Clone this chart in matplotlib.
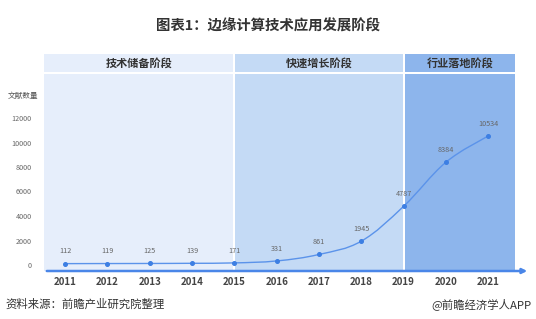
import matplotlib
matplotlib.use("Agg")
import matplotlib.pyplot as plt
from matplotlib.path import Path
from matplotlib.patches import PathPatch, FancyArrowPatch
import matplotlib.transforms as mtransforms

plt.rcParams['font.family'] = ['Noto Sans CJK SC', 'DejaVu Sans']

years = [2011, 2012, 2013, 2014, 2015, 2016, 2017, 2018, 2019, 2020, 2021]
values = [112, 119, 125, 139, 171, 331, 861, 1945, 4787, 8384, 10534]
yticks = [0, 2000, 4000, 6000, 8000, 10000, 12000]
stages = ["技术储备阶段", "快速增长阶段", "行业落地阶段"]
stage_bounds = [(2010.5, 2015.0), (2015.0, 2019.0), (2019.0, 2021.64)]
stage_colors = ["#E6EEFB", "#C4DAF5", "#8DB5EC"]

W, H = 536, 319
fig = plt.figure(figsize=(W / 100, H / 100), dpi=100)

# axes in pixel geometry
left_px, right_px, top_px, bot_px = 44, 530, 54, 271
ax = fig.add_axes([left_px / W, 1 - bot_px / H, (right_px - left_px) / W, (bot_px - top_px) / H])
px_per_unit = 147 / 12000.0
y0_px = 265
ax.set_xlim(2010.5, 2010.5 + (right_px - left_px) / 42.3)
ax.set_ylim(-(bot_px - y0_px) / px_per_unit, (y0_px - top_px) / px_per_unit)
for s in ax.spines.values():
    s.set_visible(False)
ax.patch.set_alpha(0)

trans = mtransforms.blended_transform_factory(ax.transData, ax.transAxes)
hdr_frac = (bot_px - 73) / (bot_px - top_px)
gap = 0.045
for i, ((x0, x1), c, name) in enumerate(zip(stage_bounds, stage_colors, stages)):
    a = x0 + (gap / 2 if i > 0 else 0)
    b = x1 - (gap / 2 if i < len(stages) - 1 else 0)
    ax.add_patch(plt.Rectangle((a, 0), b - a, hdr_frac - 0.005, transform=trans,
                               facecolor=c, edgecolor='none', zorder=0))
    ax.add_patch(plt.Rectangle((a, hdr_frac + 0.005), b - a, 1 - hdr_frac - 0.005, transform=trans,
                               facecolor=c, edgecolor='none', zorder=0))
    ax.text((a + b) / 2, (hdr_frac + 1) / 2, name, transform=trans, ha='center', va='center',
            fontsize=8, fontweight='bold', color='#333333', zorder=3)

# smooth line via Catmull-Rom bezier
pts = list(zip(years, values))
verts = [pts[0]]
codes = [Path.MOVETO]
t = 0.18
for i in range(len(pts) - 1):
    p0 = pts[i - 1] if i > 0 else pts[i]
    p1 = pts[i]
    p2 = pts[i + 1]
    p3 = pts[i + 2] if i + 2 < len(pts) else pts[i + 1]
    c1 = (p1[0] + (p2[0] - p0[0]) * t, p1[1] + (p2[1] - p0[1]) * t)
    c2 = (p2[0] - (p3[0] - p1[0]) * t, p2[1] - (p3[1] - p1[1]) * t)
    verts += [c1, c2, p2]
    codes += [Path.CURVE4] * 3
ax.add_patch(PathPatch(Path(verts, codes), facecolor='none', edgecolor='#5B93EA', lw=1.0, zorder=4))
ax.plot(years, values, 'o', color='#3D7FE3', ms=2.6, zorder=5)
for x, v in zip(years, values):
    ax.annotate(str(v), (x, v), xytext=(0, 6), textcoords='offset points', ha='center', va='bottom',
                fontsize=5.2, color='#666666', zorder=6)

# x axis line with arrow
ax.add_patch(FancyArrowPatch((0.0, 0.0), (1.0, 0.0), transform=ax.transAxes, arrowstyle='-|>',
                             mutation_scale=7, color='#4A86E8', lw=1.8, clip_on=False, zorder=6))

ax.set_xticks(years)
ax.set_xticklabels([str(y) for y in years], fontsize=7, fontweight='bold', color='#444444')
ax.set_yticks(yticks)
ax.set_yticklabels([str(v) for v in yticks], fontsize=5.2, color='#666666')
ax.tick_params(axis='both', length=0)
ax.tick_params(axis='x', pad=4)
ax.tick_params(axis='y', pad=9)

fig.text(38 / W, 1 - 96 / H, "文献数量", ha='right', va='center', fontsize=5.5, color='#555555')
fig.text(0.5, 1 - 26 / H, "图表1：边缘计算技术应用发展阶段", ha='center', va='center',
         fontsize=10.4, fontweight='bold', color='#333333')
fig.text(5 / W, 1 - 304 / H, "资料来源：前瞻产业研究院整理", ha='left', va='center', fontsize=8.2, color='#333333')
fig.text(532 / W, 1 - 304 / H, "@前瞻经济学人APP", ha='right', va='center', fontsize=8.2, color='#333333')

fig.savefig("out.png", dpi=100, facecolor='white')
